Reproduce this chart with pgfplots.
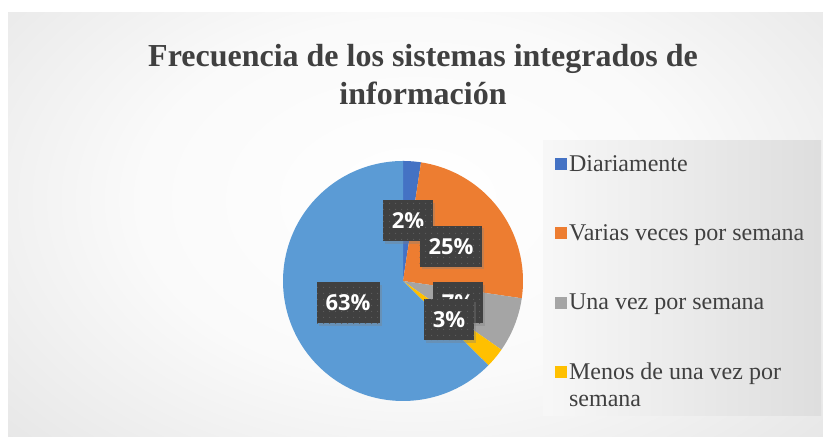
\documentclass[border=0pt]{standalone}
\usepackage{pgfplots}
\pgfplotsset{compat=1.18}
\usepackage{fontspec}
\setmainfont{Liberation Serif}
\newfontfamily\labelfont{Open Sans}
\usetikzlibrary{patterns.meta,shadows}

\definecolor{cDiaria}{HTML}{4472C4}
\definecolor{cVarias}{HTML}{ED7D31}
\definecolor{cUna}{HTML}{A5A5A5}
\definecolor{cMenos}{HTML}{FFC000}
\definecolor{cOtro}{HTML}{5B9BD5}
\definecolor{txt}{HTML}{404040}
\definecolor{lblbox}{HTML}{404040}

% share of each answer, in percent (Excel starts at 12 o'clock, clockwise)
\def\pA{2.4}   % Diariamente
\def\pB{24.9}  % Varias veces por semana
\def\pC{7.4}   % Una vez por semana
\def\pD{2.7}   % Menos de una vez por semana
\def\pE{62.6}  % rest

\pgfdeclareradialshading{bgshade}{\pgfpoint{0bp}{0bp}}{%
  color(0bp)=(white); color(15bp)=(white!98!black); color(35bp)=(white!88!black);
  color(50bp)=(white!81!black); color(75bp)=(white!78!black)}

\pgfplotsset{
  slice/.style={draw=none, samples=40},
  sq legend/.style={legend image code/.code={\fill[##1] (0bp,-6bp) rectangle (12bp,6bp);}},
}
\tikzset{
  lbl/.style={font=\labelfont\bfseries\fontsize{22bp}{24bp}\selectfont, text=white,
    minimum height=41bp, inner xsep=9bp,
    drop shadow={shadow xshift=2bp, shadow yshift=-2.5bp, opacity=0.35},
    preaction={fill=lblbox},
    pattern={Dots[distance=6bp, radius=0.7bp]}, pattern color=white!16!lblbox},
}

\begin{document}
\begin{tikzpicture}[x=1bp, y=1bp]
\useasboundingbox (0,0) rectangle (823,437);
\fill[white] (0,0) rectangle (823,437);
\begin{scope}
  \clip (8,0) rectangle (823,424);
  \shade[shading=bgshade] (-45,-63) rectangle (875,537);
\end{scope}
\shade[left color=white!97!black, right color=white!87!black] (543,21) rectangle (821,296);

\node[font=\bfseries\fontsize{32bp}{38bp}\selectfont, text=txt, anchor=base] at (423,370) {Frecuencia de los sistemas integrados de};
\node[font=\bfseries\fontsize{32bp}{38bp}\selectfont, text=txt, anchor=base] at (423,332) {información};

\begin{axis}[
  at={(403bp,156bp)}, anchor=origin,
  width=240bp, height=240bp, scale only axis,
  xmin=-1, xmax=1, ymin=-1, ymax=1,
  hide axis, clip=false,
  sq legend,
  legend cell align=left,
  legend style={at={(axis description cs:1.133,1.033)}, anchor=north west,
    draw=none, fill=none, inner sep=0pt, row sep=48bp, text=txt,
    font=\fontsize{24bp}{27bp}\selectfont},
]
\addplot[slice, fill=cDiaria, domain={90-3.6*\pA}:90] ({cos(x)},{sin(x)}) -- (0,0) -- cycle;
\addlegendentry{Diariamente}
\addplot[slice, fill=cVarias, domain={90-3.6*(\pA+\pB)}:{90-3.6*\pA}] ({cos(x)},{sin(x)}) -- (0,0) -- cycle;
\addlegendentry{Varias veces por semana}
\addplot[slice, fill=cUna, domain={90-3.6*(\pA+\pB+\pC)}:{90-3.6*(\pA+\pB)}] ({cos(x)},{sin(x)}) -- (0,0) -- cycle;
\addlegendentry{Una vez por semana}
\addplot[slice, fill=cMenos, domain={90-3.6*(\pA+\pB+\pC+\pD)}:{90-3.6*(\pA+\pB+\pC)}] ({cos(x)},{sin(x)}) -- (0,0) -- cycle;
\addlegendentry{\raisebox{0pt}[\height][6bp]{\vtop{\hbox{Menos de una vez por}\hbox{semana}}}}
\addplot[slice, fill=cOtro, samples=120, domain={90-360}:{90-3.6*(\pA+\pB+\pC+\pD)}, forget plot] ({cos(x)},{sin(x)}) -- (0,0) -- cycle;

\node[lbl] at (axis cs:0.042,0.50) {2\%};
\node[lbl] at (axis cs:0.40,0.29) {25\%};
\node[lbl] at (axis cs:0.458,-0.183) {7\%};
\node[lbl] at (axis cs:0.383,-0.325) {3\%};
\node[lbl] at (axis cs:-0.458,-0.183) {63\%};
\end{axis}
\end{tikzpicture}
\end{document}
